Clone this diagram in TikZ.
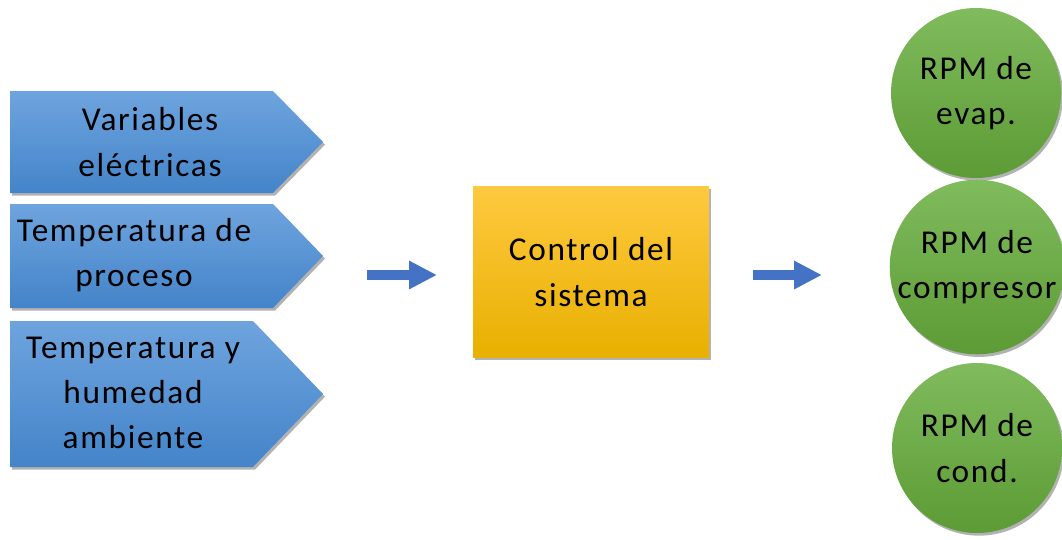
\documentclass[tikz,border=0pt]{standalone}
\usepackage{fontspec}
\setmainfont{Carlito}[LetterSpace=5]
\usetikzlibrary{arrows.meta,shadows}

\definecolor{azulA}{HTML}{6EA4DE}
\definecolor{azulB}{HTML}{4484C9}
\definecolor{ambarA}{HTML}{FFC940}
\definecolor{ambarB}{HTML}{FFC000}
\definecolor{ambarC}{HTML}{E8B000}
\definecolor{verdeA}{HTML}{80BB5D}
\definecolor{verdeB}{HTML}{5C9B35}
\definecolor{flechaC}{HTML}{4472C4}

\tikzset{
  sombra/.style={drop shadow={shadow xshift=1.5pt,shadow yshift=-2pt,opacity=0.3,fill=black}},
  entrada/.style={top color=azulA,bottom color=azulB,sombra},
  texto/.style={align=center,font=\fontsize{25}{34}\selectfont},
  control/.style={texto,rectangle,minimum width=177pt,minimum height=128pt,
    top color=ambarA,middle color=ambarB,bottom color=ambarC,sombra},
  salida/.style={texto,circle,minimum size=127.5pt,inner sep=0pt,
    top color=verdeA,bottom color=verdeB,sombra},
  flecha/.style={line width=7.5pt,draw=flechaC,-{Triangle[length=21pt,width=20pt]}}
}

\begin{document}
\begin{tikzpicture}[x=0.75pt,y=-0.75pt]
    \useasboundingbox (0,0) rectangle (1062,539);

    % entradas
    \path[entrada] (10,91) -- (273,91) -- (323,142) -- (273,193) -- (10,193) -- cycle;
    \path[entrada] (10,204) -- (273,204) -- (323,256) -- (273,308) -- (10,308) -- cycle;
    \path[entrada] (10,321) -- (253,321) -- (323,394) -- (253,467) -- (10,467) -- cycle;
    \node[texto] (var) at (150,142) {Variables\\eléctricas};
    \node[texto] (tproc) at (134,255) {Temperatura de\\proceso};
    \node[texto] (tamb) at (133,393) {Temperatura y\\humedad\\ambiente};

    % control
    \node[control] (ctrl) at (591,272) {Control del\\sistema};

    % salidas
    \node[salida] (evap) at (976,93) {RPM de\\evap.};
    \node[salida] (comp) at (977,267) {RPM de\\compresor};
    \node[salida] (cond) at (977,448) {RPM de\\cond.};

    \coordinate (a1) at (367,275);
    \coordinate (a2) at (437,275);
    \coordinate (a3) at (753,275);
    \coordinate (a4) at (822,275);
    \draw[flecha] (a1) -- (a2);
    \draw[flecha] (a3) -- (a4);
\end{tikzpicture}
\end{document}
